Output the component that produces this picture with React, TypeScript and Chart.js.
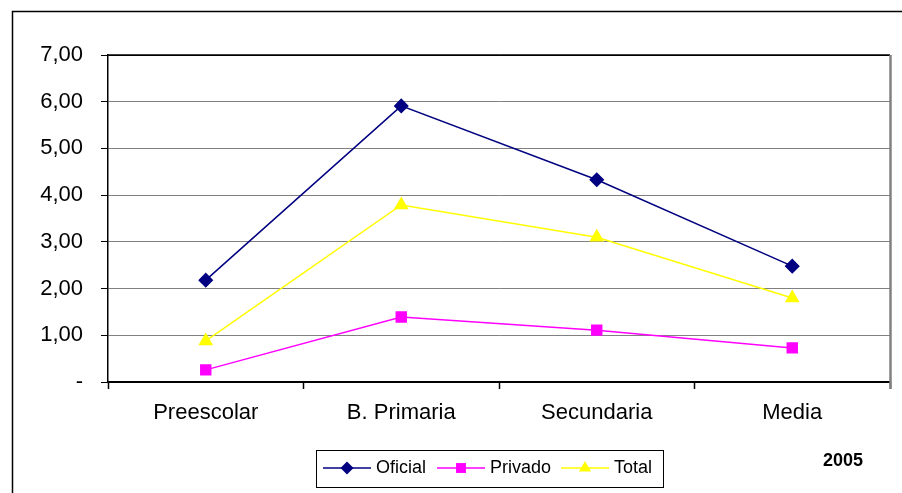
import React, { useEffect, useRef } from "react";
import { Chart, registerables } from "chart.js";

Chart.register(...registerables);

const categories = ["Preescolar", "B. Primaria", "Secundaria", "Media"];
const oficial = [2.18, 5.91, 4.33, 2.48];
const privado = [0.26, 1.39, 1.11, 0.73];
const total = [0.88, 3.79, 3.1, 1.8];
const yTickLabels = ["-", "1,00", "2,00", "3,00", "4,00", "5,00", "6,00", "7,00"];
const yearLabel = "2005";

const FONT = "'Liberation Sans', Arial, sans-serif";

function drawMarker(ctx: CanvasRenderingContext2D, style: string, x: number, y: number, r: number, color: string) {
  ctx.save();
  ctx.fillStyle = color;
  ctx.strokeStyle = color;
  ctx.beginPath();
  if (style === "rectRot") {
    ctx.moveTo(x, y - r);
    ctx.lineTo(x + r, y);
    ctx.lineTo(x, y + r);
    ctx.lineTo(x - r, y);
  } else if (style === "rect") {
    const s = Math.SQRT1_2 * r;
    ctx.rect(x - s, y - s, 2 * s, 2 * s);
  } else {
    const h = (r * 3) / 2;
    const e = r * Math.sqrt(3);
    ctx.moveTo(x, y - r);
    ctx.lineTo(x + e / 2, y - r + h);
    ctx.lineTo(x - e / 2, y - r + h);
  }
  ctx.closePath();
  ctx.fill();
  ctx.restore();
}

const framePlugin = {
  id: "frame",
  beforeDraw(chart: any) {
    const ctx = chart.ctx as CanvasRenderingContext2D;
    ctx.save();
    ctx.fillStyle = "#ffffff";
    ctx.fillRect(0, 0, chart.width, chart.height);
    ctx.restore();
  },
  afterDraw(chart: any) {
    const ctx = chart.ctx as CanvasRenderingContext2D;
    const a = chart.chartArea;
    ctx.save();
    // outer frame
    ctx.strokeStyle = "#000000";
    ctx.lineWidth = 1.5;
    ctx.beginPath();
    ctx.moveTo(12.5, chart.height + 5);
    ctx.lineTo(12.5, 11.5);
    ctx.lineTo(chart.width + 5, 11.5);
    ctx.stroke();
    // plot area top + right
    ctx.lineWidth = 1.5;
    ctx.beginPath();
    ctx.moveTo(a.left, a.top);
    ctx.lineTo(a.right, a.top);
    ctx.stroke();
    ctx.strokeStyle = "#808080";
    ctx.lineWidth = 2.5;
    ctx.beginPath();
    ctx.moveTo(a.right + 0.5, a.top);
    ctx.lineTo(a.right + 0.5, a.bottom + 7);
    ctx.stroke();

    // legend
    const lx = 316.5, ly = 450.5, lw = 347, lh = 37;
    ctx.fillStyle = "#ffffff";
    ctx.fillRect(lx, ly, lw, lh);
    ctx.strokeStyle = "#000000";
    ctx.lineWidth = 1;
    ctx.strokeRect(lx, ly, lw, lh);
    const starts = [323, 437, 561];
    const cy = 468;
    ctx.font = `18px ${FONT}`;
    ctx.textBaseline = "middle";
    ctx.textAlign = "left";
    chart.data.datasets.forEach((ds: any, i: number) => {
      const x0 = starts[i];
      ctx.strokeStyle = ds.borderColor;
      ctx.lineWidth = ds.borderWidth;
      ctx.beginPath();
      ctx.moveTo(x0, cy);
      ctx.lineTo(x0 + 48, cy);
      ctx.stroke();
      drawMarker(ctx, ds.pointStyle, x0 + 24, cy, ds.pointRadius, ds.pointBackgroundColor);
      ctx.fillStyle = "#000000";
      ctx.fillText(ds.label, x0 + 53, cy);
    });

    // year
    ctx.font = `bold 18px ${FONT}`;
    ctx.textAlign = "center";
    ctx.fillStyle = "#000000";
    ctx.fillText(yearLabel, 843, 461);
    ctx.restore();
  },
};

export default function App() {
  const ref = useRef<HTMLCanvasElement | null>(null);
  useEffect(() => {
    if (!ref.current) return;
    const chart = new Chart(ref.current, {
      type: "line",
      data: {
        labels: categories,
        datasets: [
          {
            label: "Oficial",
            data: oficial,
            borderColor: "#000080",
            backgroundColor: "#000080",
            pointBackgroundColor: "#000080",
            pointBorderColor: "#000080",
            pointStyle: "rectRot",
            pointRadius: 6.5,
            borderWidth: 1.5,
          },
          {
            label: "Privado",
            data: privado,
            borderColor: "#FF00FF",
            backgroundColor: "#FF00FF",
            pointBackgroundColor: "#FF00FF",
            pointBorderColor: "#FF00FF",
            pointStyle: "rect",
            pointRadius: 7,
            borderWidth: 1.5,
          },
          {
            label: "Total",
            data: total,
            borderColor: "#FFFF00",
            backgroundColor: "#FFFF00",
            pointBackgroundColor: "#FFFF00",
            pointBorderColor: "#FFFF00",
            pointStyle: "triangle",
            pointRadius: 7,
            borderWidth: 1.5,
          },
        ] as any,
      },
      options: {
        responsive: false,
        animation: false,
        layout: { padding: { top: 55, right: 12, bottom: 51, left: 0 } },
        plugins: { legend: { display: false }, tooltip: { enabled: false } },
        scales: {
          x: {
            offset: true,
            grid: {
              offset: true,
              drawOnChartArea: false,
              drawTicks: true,
              tickLength: 7,
              tickColor: "#000000",
              tickWidth: 1.5,
            },
            border: { display: true, color: "#000000", width: 1.5 },
            ticks: { font: { family: FONT, size: 22 }, color: "#000000", padding: 11, maxRotation: 0 },
            afterFit: (s: any) => { s.height = 60; },
          },
          y: {
            min: 0,
            max: 7,
            grid: {
              color: (c: any) => (c.tick && (c.tick.value === 7 || c.tick.value === 0) ? "#000000" : "#808080"),
              lineWidth: 1,
              tickLength: 7,
              tickColor: "#000000",
            },
            border: { display: true, color: "#000000", width: 1.5 },
            ticks: {
              stepSize: 1,
              font: { family: FONT, size: 22 },
              color: "#000000",
              padding: 18,
              callback: (_v: any, i: number) => yTickLabels[i],
            },
            afterFit: (s: any) => { s.width = 108; },
          },
        },
      },
      plugins: [framePlugin],
    });
    return () => chart.destroy();
  }, []);
  return (
    <div style={{ position: "absolute", left: 0, top: 0, width: 902, height: 493 }}>
      <canvas ref={ref} width={902} height={493} style={{ display: "block" }} />
    </div>
  );
}
